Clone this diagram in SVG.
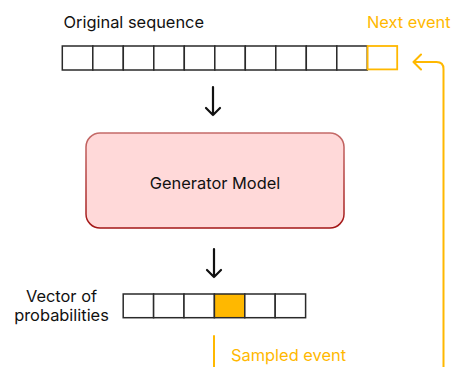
<svg xmlns="http://www.w3.org/2000/svg" width="452" height="367" viewBox="0 0 452 367">
  <defs>
    <linearGradient id="modelStroke" x1="0" y1="0" x2="0" y2="1">
      <stop offset="0" stop-color="#c46a68"/>
      <stop offset="1" stop-color="#a31616"/>
    </linearGradient>
    <style>
      .lbl { font-family: "Inter", "Noto Sans", "Liberation Sans", sans-serif; font-size: 16.4px; fill: #111111; }
      .hl { fill: #ffb800; }
      .cell { fill: #ffffff; stroke: #2a2a2a; stroke-width: 1.5; }
      .cell-next { fill: #ffffff; stroke: #ffb800; stroke-width: 1.8; }
      .cell-pick { fill: #ffb800; stroke: #2a2a2a; stroke-width: 1.5; }
      .arrow { fill: none; stroke: #111111; stroke-width: 2.2; stroke-linecap: round; stroke-linejoin: round; }
      .flow { fill: none; stroke: #ffb800; stroke-width: 2; stroke-linecap: round; stroke-linejoin: round; }
    </style>
  </defs>

  <!-- input sequence -->
  <g id="original-sequence">
    <text class="lbl" x="63.5" y="28">Original sequence</text>
    <rect class="cell" x="62.3" y="46" width="30.5" height="24"/>
    <rect class="cell" x="92.8" y="46" width="30.5" height="24"/>
    <rect class="cell" x="123.3" y="46" width="30.5" height="24"/>
    <rect class="cell" x="153.8" y="46" width="30.5" height="24"/>
    <rect class="cell" x="184.3" y="46" width="30.5" height="24"/>
    <rect class="cell" x="214.8" y="46" width="30.5" height="24"/>
    <rect class="cell" x="245.3" y="46" width="30.5" height="24"/>
    <rect class="cell" x="275.8" y="46" width="30.5" height="24"/>
    <rect class="cell" x="306.3" y="46" width="30.5" height="24"/>
    <rect class="cell" x="336.8" y="46" width="30.5" height="24"/>
  </g>

  <g id="next-event">
    <text class="lbl hl" x="367" y="28">Next event</text>
    <rect class="cell-next" x="367.6" y="46" width="29.6" height="23.4"/>
  </g>

  <!-- model -->
  <g id="generator-model">
    <rect x="86" y="133" width="258" height="95" rx="14" ry="14" fill="#ffd9d9" stroke="url(#modelStroke)" stroke-width="1.5"/>
    <text class="lbl" x="215" y="189" text-anchor="middle">Generator Model</text>
  </g>

  <!-- output distribution -->
  <g id="probability-vector">
    <text class="lbl" x="61.5" y="302" text-anchor="middle">Vector of</text>
    <text class="lbl" x="61.5" y="321" text-anchor="middle">probabilities</text>
    <rect class="cell" x="123.2" y="294" width="30.4" height="23.7"/>
    <rect class="cell" x="153.6" y="294" width="30.4" height="23.7"/>
    <rect class="cell" x="184" y="294" width="30.4" height="23.7"/>
    <rect class="cell-pick" x="214.4" y="294" width="30.4" height="23.7"/>
    <rect class="cell" x="244.8" y="294" width="30.4" height="23.7"/>
    <rect class="cell" x="275.2" y="294" width="30.4" height="23.7"/>
  </g>

  <g id="sampled-event">
    <text class="lbl hl" x="231" y="361">Sampled event</text>
  </g>

  <!-- connectors -->
  <g id="connectors">
    <path class="arrow" d="M213 87 V115 M206 108 L213 115 L220 108"/>
    <path class="arrow" d="M214 249 V277 M207 270 L214 277 L221 270"/>
    <path class="flow" d="M214 336 V368"/>
    <path class="flow" d="M443.5 368 V69 Q443.5 62 436.5 62 H414 M421 54.5 L413.5 62 L421 69.5"/>
  </g>
</svg>
